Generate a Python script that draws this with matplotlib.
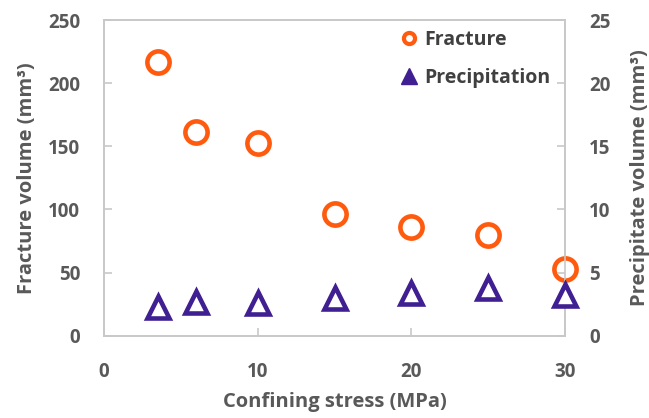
import matplotlib
matplotlib.use("Agg")
import matplotlib.pyplot as plt
from matplotlib.lines import Line2D

plt.rcParams['font.family'] = ['Open Sans', 'DejaVu Sans']
plt.rcParams['font.weight'] = 'bold'

# 数据
stress = [3.5, 6, 10, 15, 20, 25, 30]
fracture = [217, 161.5, 152.5, 96, 86, 80, 52.5]
precipitation = [2.3, 2.7, 2.55, 2.95, 3.35, 3.8, 3.25]

x_ticks = [0, 10, 20, 30]
left_ticks = [0, 50, 100, 150, 200, 250]
right_ticks = [0, 5, 10, 15, 20, 25]

orange = '#FF5A0D'
purple = '#3F1F91'
grey = '#595959'
spine_c = '#C8C8C8'

fig = plt.figure(figsize=(6.49, 4.18), dpi=100)
ax = fig.add_axes([0.160, 0.197, 0.711, 0.755])
ax2 = ax.twinx()

ax.plot(stress, fracture, 'o', ms=16, mfc='white', mec=orange, mew=3.3,
        linestyle='none', zorder=3, clip_on=False)
ax2.plot(stress, precipitation, '^', ms=16.5, mfc='white', mec=purple, mew=3.3,
         linestyle='none', zorder=3, clip_on=False)

ax.set_xlim(0, 30)
ax.set_ylim(0, 250)
ax2.set_ylim(0, 25)
ax.set_xticks(x_ticks)
ax.set_yticks(left_ticks)
ax2.set_yticks(right_ticks)

for a in (ax, ax2):
    for s in a.spines.values():
        s.set_color(spine_c)
        s.set_linewidth(1.2)
    a.tick_params(direction='in', length=6, width=1.2, color=spine_c,
                  labelsize=13.5, labelcolor=grey)
    for lab in a.get_xticklabels() + a.get_yticklabels():
        lab.set_fontweight('bold')
ax.tick_params(axis='x', pad=19)
ax.tick_params(axis='y', pad=17)
ax2.tick_params(axis='y', pad=17)

ax.set_xlabel('Confining stress (MPa)', fontsize=14.5, color=grey,
              fontweight='bold', labelpad=7)
ax.set_ylabel('Fracture volume (mm³)', fontsize=14.5, color=grey,
              fontweight='bold', labelpad=8)
ax2.set_ylabel('Precipitate volume (mm³)', fontsize=14.5, color=grey,
               fontweight='bold', labelpad=14)

handles = [
    Line2D([], [], marker='o', ms=8, mfc='white', mec=orange, mew=3, ls='none'),
    Line2D([], [], marker='^', ms=11, mfc=purple, mec=purple, ls='none'),
]
leg = ax.legend(handles, ['Fracture', 'Precipitation'], loc='upper right',
                bbox_to_anchor=(1.005, 1.025), frameon=False,
                handletextpad=0.15, labelspacing=0.95, handlelength=1.2,
                prop={'weight': 'bold', 'size': 14})
for t in leg.get_texts():
    t.set_color('#404040')

fig.savefig('out.png', dpi=100)
